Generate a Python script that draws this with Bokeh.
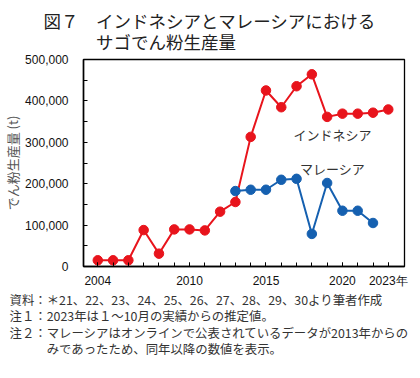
from bokeh.plotting import figure
from bokeh.models import Range1d, FixedTicker, NumeralTickFormatter, Label, Title
from bokeh.embed import file_html
from bokeh.resources import INLINE

# ---- data ----
years_id = list(range(2004, 2024))
indonesia = [15000, 15000, 15000, 88000, 31000, 89600, 89600, 87200, 132400, 155800,
             313100, 425200, 384700, 435400, 464200, 361400, 369200, 369200, 371500, 379300]
years_my = list(range(2013, 2023))
malaysia = [182200, 185400, 185400, 209500, 211800, 78700, 201700, 134700, 134700, 105100]
x_ticks = [2004, 2010, 2015, 2020, 2023]
x_tick_labels = ["2004", "2010", "2015", "2020", "2023年"]
y_ticks = [0, 100000, 200000, 300000, 400000, 500000]
y_minor = [50000, 150000, 250000, 350000, 450000]
title_lines = ["図７　インドネシアとマレーシアにおける", "　　　サゴでん粉生産量"]
y_title = "でん粉生産量 (t)"
series_names = ["インドネシア", "マレーシア"]
notes = [
    "資料：＊21、22、23、24、25、26、27、28、29、30より筆者作成",
    "注１：2023年は１～10月の実績からの推定値。",
    "注２：マレーシアはオンラインで公表されているデータが2013年からの",
    "　　　みであったため、同年以降の数値を表示。",
]

RED = "#e8141c"
BLUE = "#1560b0"
TXT = "#333333"
JP = "Noto Sans CJK JP"

W, H = 412, 362
L, R, T, B = 74, 8, 52, 96
FW, FH = W - L - R, H - T - B
X0, X1 = 2003.065, 2024.06
Y0, Y1 = 0, 500000

p = figure(width=W, height=H, output_backend="svg", toolbar_location=None,
           x_range=Range1d(X0, X1), y_range=Range1d(Y0, Y1),
           min_border_left=L, min_border_right=R, min_border_top=T, min_border_bottom=B,
           background_fill_color="white", border_fill_color="white")
p.xgrid.visible = False
p.ygrid.visible = False
p.outline_line_color = "black"
p.outline_line_width = 1.3

xa = p.xaxis[0]
xa.ticker = FixedTicker(ticks=x_ticks, minor_ticks=years_id)
xa.major_label_overrides = {t: s for t, s in zip(x_ticks, x_tick_labels)}
ya = p.yaxis[0]
ya.ticker = FixedTicker(ticks=y_ticks, minor_ticks=y_minor)
ya.formatter = NumeralTickFormatter(format="0,0")
for ax in (xa, ya):
    ax.axis_line_color = "black"
    ax.axis_line_width = 1.5
    ax.major_tick_in = 4
    ax.major_tick_out = 0
    ax.minor_tick_in = 4
    ax.minor_tick_out = 0
    ax.major_tick_line_color = "black"
    ax.minor_tick_line_color = "black"
    ax.major_label_text_font = "Liberation Sans"
    ax.major_label_text_font_size = "12px"
    ax.major_label_text_color = "#111111"
xa.major_label_standoff = 7
ya.major_label_standoff = 15
ya.axis_label = y_title
ya.axis_label_text_font = JP
ya.axis_label_text_font_size = "13px"
ya.axis_label_text_font_style = "normal"
ya.axis_label_text_color = "#555555"
ya.axis_label_standoff = 0

p.line(years_id, indonesia, line_color=RED, line_width=2)
p.scatter(years_id, indonesia, size=9.5, fill_color=RED, line_color=RED)
p.line(years_my, malaysia, line_color=BLUE, line_width=2)
p.scatter(years_my, malaysia, size=9.5, fill_color=BLUE, line_color=BLUE)


def dx(px):
    return X0 + (px - L) * (X1 - X0) / FW


def dy(py):
    return Y0 + (T + FH - py) * (Y1 - Y0) / FH


# series labels (inside the plot area)
for name, (px, py) in zip(series_names, [(330, 130), (330, 164.5)]):
    p.add_layout(Label(x=dx(px), y=dy(py), text=name, text_font=JP, text_font_size="13px",
                       text_color=TXT, text_align="center", text_baseline="middle"))

# title
p.add_layout(Title(text="\n".join(title_lines), text_font=JP, text_font_size="17.5px",
                   text_font_style="normal", text_color="#222222", align="left",
                   offset=34 - L, standoff=11, text_line_height=0.854), "above")
# notes
p.add_layout(Title(text="\n".join(notes), text_font=JP, text_font_size="12.4px",
                   text_font_style="normal", text_color=TXT, align="left",
                   vertical_align="top", offset=-L, standoff=0,
                   text_line_height=0.92), "below")

open("out.html", "w").write(file_html(p, INLINE))
